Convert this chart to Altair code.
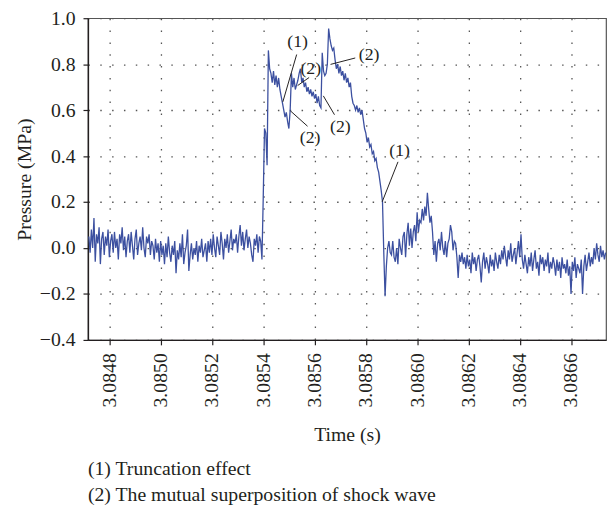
import altair as alt
import pandas as pd

# sampling grid of the recorded pressure trace
t_start = 3.08472
t_step = 0.000005

# pressure (MPa), in order of time
baseline_pre = [
    0.05, -0.02, 0.08, 0.00, 0.13, -0.06, 0.06, 0.02, 0.09, -0.07,
    0.04, 0.07, -0.03, 0.05, 0.01, 0.08, -0.04, 0.03, 0.06, -0.02,
    0.07, 0.00, 0.04, -0.05, 0.06, 0.02, 0.09, -0.01, 0.05, -0.04,
    0.03, 0.06, -0.02, 0.07, 0.01, -0.05, 0.04, 0.08, -0.03, 0.02,
    0.05, -0.01, 0.09, 0.00, -0.04, 0.05, 0.02, 0.06, -0.03, 0.03,
    0.01, -0.05, 0.04, -0.02, 0.02, -0.06, 0.03, -0.03, 0.01, -0.07,
    0.02, -0.04, 0.05, -0.02, -0.06, 0.01, -0.03, 0.03, -0.11, -0.01,
    -0.05, 0.02, -0.04, 0.06, -0.07, -0.02, 0.01, 0.08, -0.10, -0.03,
    0.02, -0.05, 0.00, -0.03, 0.03, -0.06, 0.01, -0.02, 0.04, -0.04,
    -0.01, 0.02, -0.06, 0.03, -0.02, 0.04, -0.03, 0.06, 0.00, -0.04,
    0.05, 0.01, -0.03, 0.07, 0.02, -0.05, 0.04, 0.00, 0.06, -0.02,
    0.03, 0.08, -0.01, 0.04, 0.02, 0.06, -0.02, 0.05, 0.10, 0.01,
    0.07, -0.01, 0.04, 0.08, 0.00, 0.05, 0.02, -0.03, -0.06, 0.04,
    0.01, 0.06, -0.02, 0.05, 0.03, -0.05,
]
shock = [
    0.22, 0.52, 0.50, 0.36, 0.86,
    0.78, 0.76, 0.72, 0.77, 0.71, 0.75, 0.70, 0.74, 0.69, 0.66,
    0.63, 0.60, 0.57, 0.59, 0.55, 0.52, 0.60, 0.76, 0.70, 0.74,
    0.69, 0.71, 0.73, 0.76, 0.78, 0.72, 0.74, 0.70, 0.72, 0.68,
    0.70, 0.67, 0.69, 0.66, 0.68, 0.65, 0.67, 0.63, 0.66, 0.62, 0.61,
    0.85, 0.77, 0.75, 0.76, 0.80,
    0.955, 0.91, 0.88, 0.86, 0.87, 0.82, 0.78, 0.80, 0.76, 0.79,
    0.75, 0.77, 0.73, 0.76, 0.72, 0.74, 0.70, 0.72, 0.66, 0.63,
    0.62, 0.60, 0.62, 0.59, 0.61, 0.58, 0.60, 0.56, 0.52, 0.50,
    0.46, 0.48, 0.44, 0.45, 0.41, 0.42, 0.38, 0.39, 0.35, 0.33,
    0.29, 0.25, 0.20, -0.02, -0.21, -0.08, 0.00,
]
post_shock = [
    0.03, -0.02, -0.03, 0.03, -0.04, -0.06, 0.00, -0.07, 0.04, 0.00,
    -0.03, 0.05, 0.07, -0.04, 0.06, 0.11, 0.01, 0.085, 0.00, 0.07,
    0.10, 0.03, 0.155, 0.07, 0.12, 0.11, 0.17, 0.12, 0.18, 0.14,
    0.24, 0.17, 0.11, 0.14, 0.07, -0.03, 0.03, -0.06, 0.02, 0.04,
    -0.01, 0.07, 0.00, -0.03, 0.03, -0.04, 0.02, 0.04, 0.10, 0.07,
    -0.01, 0.03, 0.02, -0.04, -0.13, -0.03, -0.06, -0.02, -0.07,
]
tail = [
    -0.04, -0.09, -0.03, -0.08, -0.05, -0.11, -0.02, -0.07, -0.04, -0.10,
    -0.05, -0.03, -0.08, -0.15, -0.06, -0.02, -0.09, -0.04, -0.07, -0.11,
    -0.03, -0.08, -0.05, -0.10, -0.02, -0.06, -0.09, -0.03, -0.07, -0.01,
    -0.05, 0.01, -0.04, -0.08, -0.01, -0.05, 0.02, -0.06, -0.03, 0.00,
    -0.07, -0.02, 0.03, -0.04, 0.06, -0.05, -0.09, -0.03, -0.07, -0.11,
    -0.04, -0.08, -0.02, -0.10, -0.05, -0.01, -0.09, -0.06, -0.12, -0.03,
    -0.07, -0.04, -0.10, -0.05, -0.08, -0.02, -0.11, -0.06, -0.09, -0.04,
    -0.07, -0.12, -0.05, -0.10, -0.06, -0.13, -0.04, -0.09, -0.07, -0.11,
    -0.05, -0.12, -0.08, -0.20, -0.06, -0.10, -0.04, -0.13, -0.07, -0.09,
    -0.11, -0.05, -0.20, -0.08, -0.03, -0.10, -0.06, -0.02, -0.08, -0.04,
    -0.07, 0.00, -0.05, 0.02, -0.03, -0.06, 0.01, -0.04, -0.01, -0.05, -0.02,
]

x_ticks = [3.0848, 3.0850, 3.0852, 3.0854, 3.0856, 3.0858, 3.0860, 3.0862, 3.0864, 3.0866]
y_ticks = [-0.4, -0.2, 0.0, 0.2, 0.4, 0.6, 0.8, 1.0]

ann_labels = ["(1)", "(2)", "(2)", "(2)", "(2)", "(1)"]
ann_label_t = [3.085534, 3.0855854, 3.0855827, 3.0857009, 3.0858126, 3.0859319]
ann_label_v = [0.898, 0.778, 0.478, 0.526, 0.8375, 0.422]
ann_line_t1 = [3.0855303, 3.0855789, 3.0855727, 3.0856778, 3.0857587, 3.0859254]
ann_line_v1 = [0.842, 0.742, 0.530, 0.580, 0.827, 0.375]
ann_line_t2 = [3.0854764, 3.0855342, 3.0855057, 3.0856343, 3.0856624, 3.0858638]
ann_line_v2 = [0.636, 0.707, 0.597, 0.662, 0.799, 0.201]

notes = ["(1) Truncation effect", "(2) The mutual superposition of shock wave"]

FONT = "Liberation Serif"
INK = "#231F20"
BLUE = "#3C50A0"

pressure = baseline_pre + shock + post_shock + tail
trace = pd.DataFrame({
    "t": [t_start + i * t_step for i in range(len(pressure))],
    "v": pressure,
})
ann_lines = pd.DataFrame({"t": ann_line_t1, "v": ann_line_v1, "t2": ann_line_t2, "v2": ann_line_v2})
ann_text = pd.DataFrame({"t": ann_label_t, "v": ann_label_v, "label": ann_labels})

x_scale = alt.Scale(domain=[3.0847165, 3.0867365], nice=False, zero=False)
y_scale = alt.Scale(domain=[-0.4, 1.0], nice=False, zero=False)

line = alt.Chart(trace).mark_line(color=BLUE, strokeWidth=1.3).encode(
    x=alt.X("t:Q", scale=x_scale,
            axis=alt.Axis(values=x_ticks, format=".4f", labelAngle=-90, title="Time (s)",
                          titlePadding=18)),
    y=alt.Y("v:Q", scale=y_scale,
            axis=alt.Axis(values=y_ticks, format=".1f", title="Pressure (MPa)", titlePadding=5)),
)

rules = alt.Chart(ann_lines).mark_rule(color=INK, strokeWidth=1).encode(
    x="t:Q", y="v:Q", x2="t2:Q", y2="v2:Q"
)

labels = alt.Chart(ann_text).mark_text(
    font=FONT, fontSize=18, color=INK, align="center", baseline="middle"
).encode(x="t:Q", y="v:Q", text="label:N")

note1 = alt.Chart(pd.DataFrame({"note": [notes[0]]})).mark_text(
    font=FONT, fontSize=20, color=INK, align="left", baseline="middle"
).encode(x=alt.value(0), y=alt.value(457), text="note:N")

note2 = alt.Chart(pd.DataFrame({"note": [notes[1]]})).mark_text(
    font=FONT, fontSize=20, color=INK, align="left", baseline="middle"
).encode(x=alt.value(0), y=alt.value(483), text="note:N")

chart = alt.layer(line, rules, labels, note1, note2).properties(
    width=525, height=326,
    autosize=alt.AutoSizeParams(type="none"),
    padding={"left": 81, "top": 7, "right": 2, "bottom": 170},
).configure_view(
    stroke="#555555", strokeWidth=1.2
).configure_axis(
    labelFont=FONT, labelFontSize=20, labelColor=INK, labelPadding=8,
    titleFont=FONT, titleFontSize=20, titleFontWeight="normal", titleColor=INK,
    domainColor=INK, domainWidth=1.4, tickColor=INK, tickSize=5, tickWidth=1.2,
    grid=True, gridColor="#555555", gridDash=[1.5, 10.5], gridWidth=1.3,
).configure_text(font=FONT)

chart.save("out.html", embed_options={"renderer": "svg", "actions": False})
